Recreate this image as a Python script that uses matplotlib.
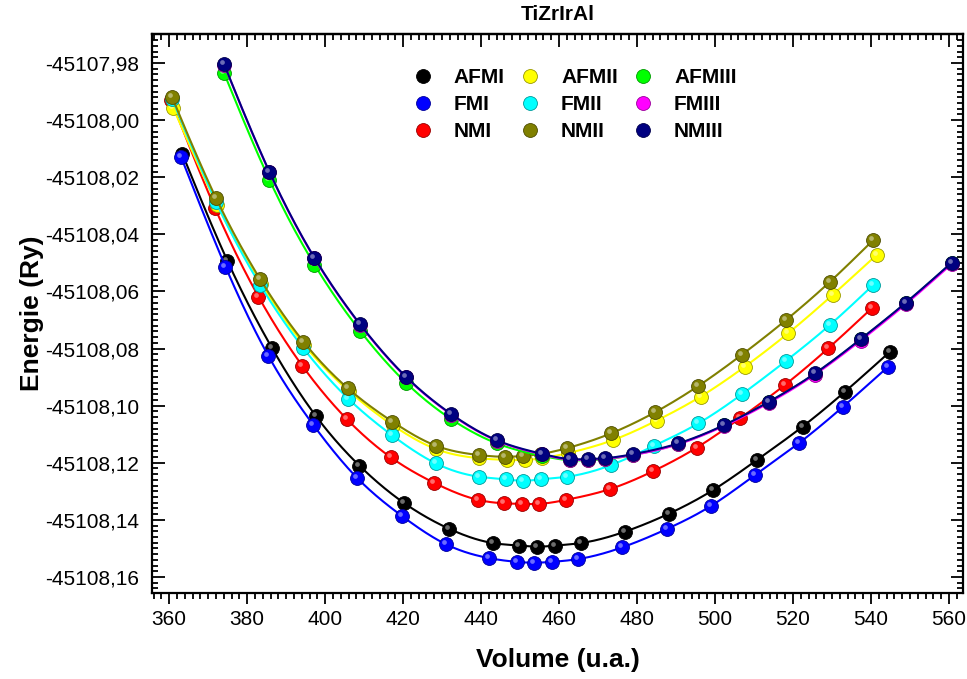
import numpy as np
import matplotlib
matplotlib.use("Agg")
import matplotlib.pyplot as plt
from matplotlib.colors import to_rgb
from matplotlib.lines import Line2D
from matplotlib.ticker import FuncFormatter, MultipleLocator
from matplotlib.transforms import offset_copy

plt.rcParams["font.family"] = ["Liberation Sans", "DejaVu Sans"]

# volumes (u.a.) and energies (Ry)
vol_afmi = [363.41, 374.95, 386.33, 397.62, 408.79, 420.26, 431.79, 443.00, 449.74, 454.28,
            458.90, 465.64, 476.92, 488.21, 499.56, 510.77, 522.49, 533.33, 544.87]
e_afmi = [-45108.0119, -45108.0493, -45108.0797, -45108.1036, -45108.1210, -45108.1341,
          -45108.1431, -45108.1481, -45108.1490, -45108.1494, -45108.1490, -45108.1481,
          -45108.1441, -45108.1378, -45108.1295, -45108.1190, -45108.1073, -45108.0951,
          -45108.0811]

vol_fmi = [363.08, 374.44, 385.46, 397.00, 408.28, 419.67, 430.95, 442.13, 449.15, 453.67,
           458.13, 464.95, 476.23, 487.62, 498.97, 510.26, 521.54, 532.90, 544.44]
e_fmi = [-45108.0130, -45108.0513, -45108.0826, -45108.1068, -45108.1254, -45108.1386,
         -45108.1485, -45108.1534, -45108.1547, -45108.1550, -45108.1547, -45108.1537,
         -45108.1496, -45108.1432, -45108.1351, -45108.1243, -45108.1131, -45108.1003,
         -45108.0863]

vol_nmi = [360.51, 371.79, 382.90, 394.18, 405.56, 416.85, 427.95, 439.31, 445.97, 450.44,
           454.87, 461.72, 473.08, 484.18, 495.31, 506.41, 517.95, 529.05, 540.18]
e_nmi = [-45107.9930, -45108.0309, -45108.0618, -45108.0861, -45108.1047, -45108.1181,
         -45108.1270, -45108.1330, -45108.1342, -45108.1344, -45108.1344, -45108.1330,
         -45108.1292, -45108.1229, -45108.1147, -45108.1044, -45108.0927, -45108.0799,
         -45108.0659]

vol_afmii = [361.10, 372.31, 383.59, 394.62, 406.03, 417.31, 428.46, 439.49, 446.59, 451.28,
             455.72, 462.31, 473.92, 485.05, 496.33, 507.69, 518.79, 530.18, 541.46]
e_afmii = [-45107.9959, -45108.0297, -45108.0574, -45108.0787, -45108.0948, -45108.1068,
           -45108.1152, -45108.1184, -45108.1190, -45108.1190, -45108.1184, -45108.1166,
           -45108.1120, -45108.1052, -45108.0968, -45108.0863, -45108.0746, -45108.0612,
           -45108.0472]

vol_fmii = [360.77, 372.05, 383.33, 394.44, 405.97, 417.10, 428.38, 439.56, 446.33, 450.85,
            455.31, 461.97, 473.33, 484.44, 495.72, 507.00, 518.21, 529.49, 540.59]
e_fmii = [-45107.9926, -45108.0287, -45108.0577, -45108.0799, -45108.0976, -45108.1103,
          -45108.1202, -45108.1249, -45108.1258, -45108.1263, -45108.1258, -45108.1249,
          -45108.1208, -45108.1140, -45108.1062, -45108.0959, -45108.0843, -45108.0717,
          -45108.0577]

vol_nmii = [360.69, 372.05, 383.33, 394.44, 405.82, 417.26, 428.38, 439.56, 446.15, 450.85,
            455.38, 461.97, 473.33, 484.62, 495.72, 506.85, 518.21, 529.49, 540.59]
e_nmii = [-45107.9918, -45108.0274, -45108.0557, -45108.0776, -45108.0939, -45108.1056,
          -45108.1140, -45108.1173, -45108.1179, -45108.1176, -45108.1169, -45108.1149,
          -45108.1097, -45108.1023, -45108.0931, -45108.0822, -45108.0700, -45108.0566,
          -45108.0420]

vol_iii = [374.10, 385.72, 397.26, 408.97, 420.69, 432.31, 444.03, 455.72, 462.82, 467.36,
           471.79, 478.90, 490.59, 502.31, 513.85, 525.64, 537.36, 548.97, 560.69]
e_afmiii = [-45107.9836, -45108.0209, -45108.0506, -45108.0738, -45108.0919, -45108.1047,
            -45108.1132, -45108.1176, -45108.1191, -45108.1191, -45108.1188, -45108.1173,
            -45108.1134, -45108.1069, -45108.0987, -45108.0888, -45108.0768, -45108.0640,
            -45108.0500]
e_fmiii = [-45107.9806, -45108.0183, -45108.0484, -45108.0717, -45108.0900, -45108.1031,
           -45108.1123, -45108.1171, -45108.1189, -45108.1189, -45108.1186, -45108.1173,
           -45108.1135, -45108.1071, -45108.0990, -45108.0891, -45108.0772, -45108.0644,
           -45108.0504]
e_nmiii = [-45107.9805, -45108.0181, -45108.0482, -45108.0715, -45108.0898, -45108.1029,
           -45108.1121, -45108.1169, -45108.1187, -45108.1187, -45108.1184, -45108.1170,
           -45108.1132, -45108.1068, -45108.0986, -45108.0887, -45108.0767, -45108.0639,
           -45108.0499]

labels = ["AFMI", "FMI", "NMI", "AFMII", "FMII", "NMII", "AFMIII", "FMIII", "NMIII"]
colors = ["#000000", "#0000ff", "#ff0000", "#ffff00", "#00ffff", "#808000",
          "#00ff00", "#ff00ff", "#000080"]
volumes = [vol_afmi, vol_fmi, vol_nmi, vol_afmii, vol_fmii, vol_nmii, vol_iii, vol_iii, vol_iii]
energies = [e_afmi, e_fmi, e_nmi, e_afmii, e_fmii, e_nmii, e_afmiii, e_fmiii, e_nmiii]


def natural_spline(x, y, n=400):
    x = np.asarray(x, float)
    y0 = float(y[0])
    y = np.asarray(y, float) - y0
    h = np.diff(x)
    m = len(x)
    a = np.zeros((m, m))
    rhs = np.zeros(m)
    a[0, 0] = a[-1, -1] = 1.0
    for i in range(1, m - 1):
        a[i, i - 1] = h[i - 1]
        a[i, i] = 2 * (h[i - 1] + h[i])
        a[i, i + 1] = h[i]
        rhs[i] = 6 * ((y[i + 1] - y[i]) / h[i] - (y[i] - y[i - 1]) / h[i - 1])
    mm = np.linalg.solve(a, rhs)
    xs = np.linspace(x[0], x[-1], n)
    k = np.clip(np.searchsorted(x, xs) - 1, 0, m - 2)
    t0 = x[k + 1] - xs
    t1 = xs - x[k]
    hk = h[k]
    ys = (mm[k] * t0 ** 3 / (6 * hk) + mm[k + 1] * t1 ** 3 / (6 * hk)
          + (y[k] / hk - mm[k] * hk / 6) * t0 + (y[k + 1] / hk - mm[k + 1] * hk / 6) * t1)
    return xs, ys + y0


def shade(color, amount):
    r, g, b = to_rgb(color)
    return (r + (1 - r) * amount, g + (1 - g) * amount, b + (1 - b) * amount)


def darken(color, amount):
    r, g, b = to_rgb(color)
    return (r * amount, g * amount, b * amount)


fig = plt.figure(figsize=(9.67, 6.79), dpi=100)
ax = fig.add_axes([152 / 967, 86 / 679, 811 / 967, 559 / 679])
glint = offset_copy(ax.transData, fig=fig, x=-2.0, y=2.0, units="dots")

for idx, (vol, en, color) in enumerate(zip(volumes, energies, colors)):
    xs, ys = natural_spline(vol, en)
    z = 2 + idx * 3
    ax.plot(xs, ys, color=color, lw=1.5, zorder=z)
    ax.plot(vol, en, ls="none", marker="o", ms=10, color=color,
            mec=darken(color, 0.6), mew=0.6, zorder=z + 1)
    ax.plot(vol, en, ls="none", marker="o", ms=3.4, color=shade(color, 0.5),
            mew=0, alpha=0.85, transform=glint, zorder=z + 2)

ax.set_xlim(355.6, 563.6)
ax.set_ylim(-45108.1656, -45107.96985)

ax.xaxis.set_major_locator(MultipleLocator(20))
ax.xaxis.set_minor_locator(MultipleLocator(2))
ax.yaxis.set_major_locator(MultipleLocator(0.02))
ax.yaxis.set_minor_locator(MultipleLocator(0.002))
ax.yaxis.set_major_formatter(FuncFormatter(lambda v, p: f"{v:.2f}".replace(".", ",")))

ax.tick_params(axis="x", which="both", direction="out", labelsize=15, pad=4, width=1.3)
ax.tick_params(axis="x", which="major", length=8)
ax.tick_params(axis="x", which="minor", length=4)
ax.tick_params(axis="y", which="both", direction="in", left=True, right=True,
               labelsize=15, pad=9, width=1.3)
ax.tick_params(axis="y", which="major", length=9)
ax.tick_params(axis="y", which="minor", length=4.5)

top = ax.secondary_xaxis("top")
top.xaxis.set_major_locator(MultipleLocator(20))
top.xaxis.set_minor_locator(MultipleLocator(2))
top.tick_params(axis="x", which="both", direction="in", labeltop=False, width=1.3)
top.tick_params(axis="x", which="major", length=9)
top.tick_params(axis="x", which="minor", length=4.5)
top.spines["top"].set_linewidth(1.6)

for spine in ax.spines.values():
    spine.set_linewidth(1.6)

ax.set_xlabel("Volume (u.a.)", fontsize=19, fontweight="bold", labelpad=14)
ax.set_ylabel("Energie (Ry)", fontsize=19, fontweight="bold", labelpad=1)
ax.set_title("TiZrIrAl", fontsize=15, fontweight="bold", pad=10)

handles = [Line2D([], [], ls="none", marker="o", ms=10, color=c, mec=darken(c, 0.6), mew=0.6)
           for c in colors]
ax.legend(handles, labels, ncol=3, loc="upper left", bbox_to_anchor=(0.308, 0.957),
          frameon=False, borderpad=0, handlelength=1.0, handletextpad=1.0,
          columnspacing=0.7, labelspacing=0.37, prop={"weight": "bold", "size": 15})

fig.savefig("out.png", dpi=100)
